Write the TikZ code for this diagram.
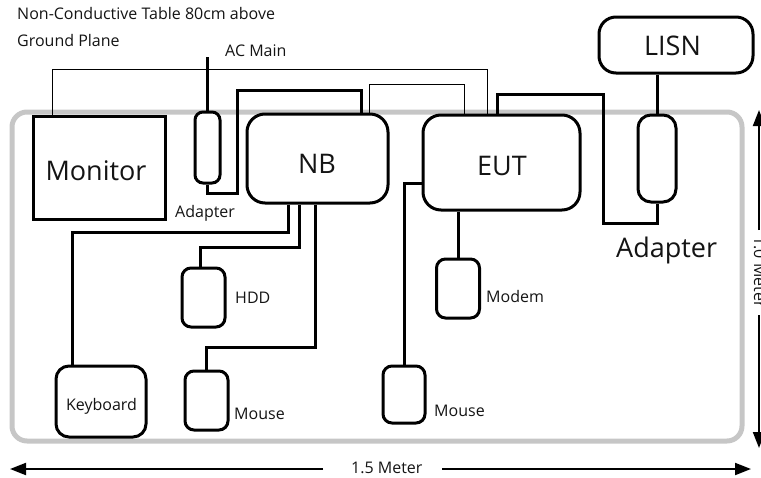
\documentclass[tikz,border=0pt]{standalone}
\usepackage{fontspec}
\setmainfont{Open Sans}
\usetikzlibrary{arrows.meta,calc}
\definecolor{tablegray}{HTML}{C6C6C6}
\definecolor{txt}{HTML}{141414}
\begin{document}
\begin{tikzpicture}[x=1pt,y=-1pt,
  box/.style={draw=black, line width=3pt, fill=white, inner sep=0pt},
  wire/.style={draw=black, line width=3pt},
  thinwire/.style={draw=black, line width=1pt},
  small/.style={font=\fontsize{16}{19}\selectfont, text=txt, inner sep=0pt},
  big/.style={font=\fontsize{27}{31}\selectfont, text=txt, inner sep=0pt},
  dim/.style={line width=2pt, -{Triangle[length=16pt,width=12pt]}}]
\useasboundingbox (0,0) rectangle (761,477);

% table
\draw[tablegray, line width=5pt, rounded corners=15pt] (12,112) rectangle (742,441);

% boxes
\node[box, minimum width=132pt, minimum height=103pt] (mon) at (99,167.5) {};
\node[box, rounded corners=8pt, minimum width=25pt, minimum height=71pt] (ad1) at (207.5,147.5) {};
\node[box, rounded corners=18pt, minimum width=141pt, minimum height=89pt] (nb) at (317.5,158.5) {};
\node[box, rounded corners=18pt, minimum width=157pt, minimum height=95pt] (eut) at (501.5,162.5) {};
\node[box, rounded corners=13pt, minimum width=38pt, minimum height=87pt] (ad2) at (657,158.5) {};
\node[box, rounded corners=17pt, minimum width=154pt, minimum height=56pt] (lisn) at (676,45) {};
\node[box, rounded corners=9pt, minimum width=43pt, minimum height=59pt] (hdd) at (203.5,297.5) {};
\node[box, rounded corners=9pt, minimum width=43pt, minimum height=59pt] (ms1) at (206.5,400.5) {};
\node[box, rounded corners=13pt, minimum width=90pt, minimum height=71pt] (kbd) at (101,401.5) {};
\node[box, rounded corners=9pt, minimum width=42pt, minimum height=57pt] (ms2) at (404,394.5) {};
\node[box, rounded corners=9pt, minimum width=43pt, minimum height=59pt] (mdm) at (458,288.5) {};

% texts
\node[small, anchor=base west] (t1) at (17,19) {Non-Conductive Table 80cm above};
\node[small, anchor=base west] (t2) at (17,46) {Ground Plane};
\node[small, anchor=base west] (tac) at (225,56) {AC Main};
\node[small, anchor=base west] (tad1) at (175,217) {Adapter};
\node[big, anchor=base west] (tad2) at (616,257) {Adapter};
\node[big, anchor=base] (tmon) at (96,180) {Monitor};
\node[big, anchor=base] (tnb) at (317,173) {NB};
\node[big, anchor=base] (teut) at (502,175) {EUT};
\node[big, anchor=base] (tlisn) at (672.5,55) {LISN};
\node[small, anchor=base] (tkbd) at (101.5,410) {Keyboard};
\node[small, anchor=base west] (thdd) at (235,303) {HDD};
\node[small, anchor=base west] (tms1) at (234,419) {Mouse};
\node[small, anchor=base west] (tms2) at (434,416) {Mouse};
\node[small, anchor=base west] (tmdm) at (486,302) {Modem};
\node[small, anchor=base west] (t15) at (351,473) {1.5 Meter};
\node[small, anchor=base, rotate=-90] (t10) at (754,272) {1.0 Meter};

% thin wires
\draw[thinwire] ([xshift=-47pt]mon.north) |- (487,69) -- ([xshift=-14.5pt]eut.north);
\draw[thinwire] ([xshift=51.5pt]nb.north) |- (464,84) -- ([xshift=-37.5pt]eut.north);

% thick wires
\coordinate (acend) at (207.5,57);
\draw[wire] (ad1.north) -- (acend);
\draw[wire] (ad1.south) |- (237,193) |- (361,90) -- ([xshift=43.5pt]nb.north);
\draw[wire] ([xshift=-4.5pt]eut.north) |- (603,94) -- (603,223) -| (ad2.south);
\draw[wire] (ad2.north |- lisn.south) -- (ad2.north);
\draw[wire] ([xshift=-29.5pt]nb.south) |- (72,232) -- ([xshift=-29pt]kbd.north);
\draw[wire] ([xshift=-18.5pt]nb.south) |- (200,247) -- ([xshift=-3.5pt]hdd.north);
\draw[wire] ([xshift=-2.5pt]nb.south) |- (206.5,347) -- (ms1.north);
\draw[wire] ([yshift=-20.5pt]eut.west) -| (ms2.north);
\draw[wire] (mdm.north |- eut.south) -- (mdm.north);

% dimension arrows
\coordinate (hA) at (323,469);
\coordinate (hL) at (10,469);
\coordinate (hB) at (442,469);
\coordinate (hR) at (751,469);
\draw[dim] (hA) -- (hL);
\draw[dim] (hB) -- (hR);
\coordinate (vA) at (759,230);
\coordinate (vT) at (759,110);
\coordinate (vB) at (759,315);
\coordinate (vD) at (759,448);
\draw[dim] (vA) -- (vT);
\draw[dim] (vB) -- (vD);
\end{tikzpicture}
\end{document}
